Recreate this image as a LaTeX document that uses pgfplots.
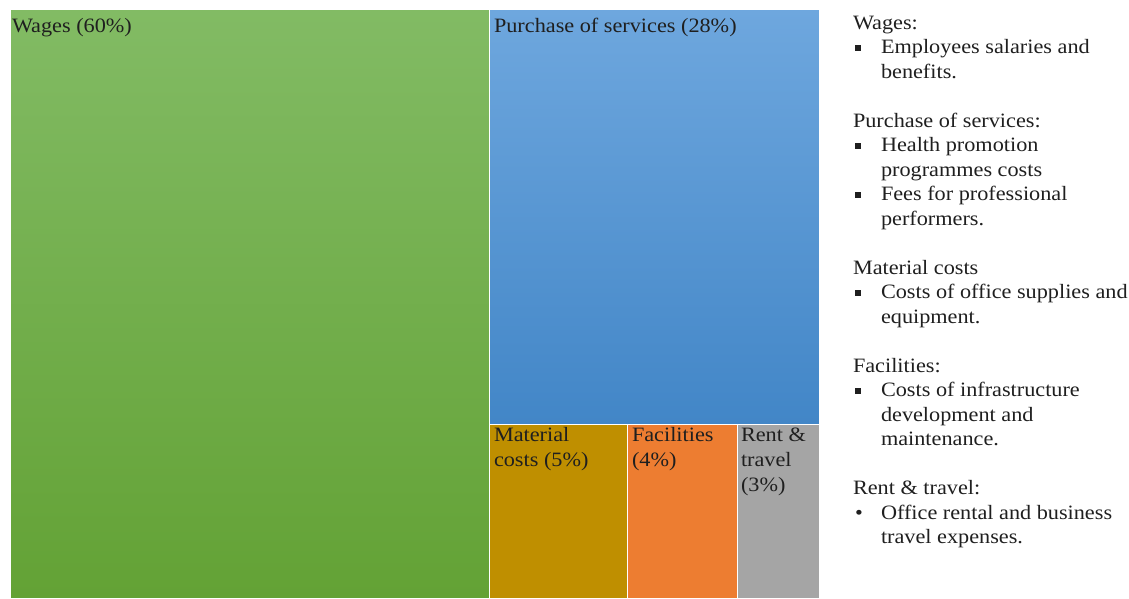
\documentclass[border=0pt]{standalone}
\usepackage{fontspec}
\setmainfont{Liberation Serif}[FakeStretch=1.09]
\usepackage{pgfplots}
\pgfplotsset{compat=1.18}
\definecolor{wtop}{RGB}{130,187,100}
\definecolor{wbot}{RGB}{99,162,53}
\definecolor{btop}{RGB}{110,167,222}
\definecolor{bbot}{RGB}{66,134,199}
\definecolor{matc}{RGB}{191,143,0}
\definecolor{facc}{RGB}{237,125,49}
\definecolor{renc}{RGB}{165,165,165}
\newcommand{\sqb}{\rule[1.5pt]{3pt}{3pt}}
\tikzset{L/.style={anchor=base west,inner sep=0pt,outer sep=0pt,text=black!88}}
\begin{document}
\begin{tikzpicture}
\fontsize{10.2}{12.24}\selectfont
\begin{axis}[x=0.5pt,y=0.5pt,scale only axis,xmin=0,xmax=1129,ymin=0,ymax=598,
  y dir=reverse,hide axis,clip=false]
\path (axis cs:0,0) rectangle (axis cs:1129,598);
% Wages 60%
\addplot[draw=white,line width=0.5pt,top color=wtop,bottom color=wbot] coordinates {(10,10) (489,10) (489,598) (10,598)} -- cycle;
% Purchase of services 28%
\addplot[draw=white,line width=0.5pt,top color=btop,bottom color=bbot] coordinates {(489,10) (819,10) (819,424) (489,424)} -- cycle;
% Material costs 5%
\addplot[draw=white,line width=0.5pt,fill=matc] coordinates {(489,424) (627,424) (627,598) (489,598)} -- cycle;
% Facilities 4%
\addplot[draw=white,line width=0.5pt,fill=facc] coordinates {(627,424) (737,424) (737,598) (627,598)} -- cycle;
% Rent & travel 3%
\addplot[draw=white,line width=0.5pt,fill=renc] coordinates {(737,424) (819,424) (819,598) (737,598)} -- cycle;

\node[L] at (axis cs:12,33) {Wages (60\%)};
\node[L] at (axis cs:494,33) {Purchase of services (28\%)};
\node[L] at (axis cs:494,441) {Material};
\node[L] at (axis cs:494,466) {costs (5\%)};
\node[L] at (axis cs:632,441) {Facilities};
\node[L] at (axis cs:632,466) {(4\%)};
\node[L] at (axis cs:741,441) {Rent \&};
\node[L] at (axis cs:741,466) {travel};
\node[L] at (axis cs:741,491) {(3\%)};

% right-hand description
\node[L] at (axis cs:853,29.5) {Wages:};
\node[L] at (axis cs:855,53.98) {\sqb};
\node[L] at (axis cs:881,53.98) {Employees salaries and};
\node[L] at (axis cs:881,78.46) {benefits.};
\node[L] at (axis cs:853,127.42) {Purchase of services:};
\node[L] at (axis cs:855,151.9) {\sqb};
\node[L] at (axis cs:881,151.9) {Health promotion};
\node[L] at (axis cs:881,176.38) {programmes costs};
\node[L] at (axis cs:855,200.86) {\sqb};
\node[L] at (axis cs:881,200.86) {Fees for professional};
\node[L] at (axis cs:881,225.34) {performers.};
\node[L] at (axis cs:853,274.3) {Material costs};
\node[L] at (axis cs:855,298.78) {\sqb};
\node[L] at (axis cs:881,298.78) {Costs of office supplies and};
\node[L] at (axis cs:881,323.26) {equipment.};
\node[L] at (axis cs:853,372.22) {Facilities:};
\node[L] at (axis cs:855,396.7) {\sqb};
\node[L] at (axis cs:881,396.7) {Costs of infrastructure};
\node[L] at (axis cs:881,421.18) {development and};
\node[L] at (axis cs:881,445.66) {maintenance.};
\node[L] at (axis cs:853,494.62) {Rent \& travel:};
\node[L] at (axis cs:855,519.1) {\textbullet};
\node[L] at (axis cs:881,519.1) {Office rental and business};
\node[L] at (axis cs:881,543.58) {travel expenses.};
\end{axis}
\end{tikzpicture}
\end{document}
